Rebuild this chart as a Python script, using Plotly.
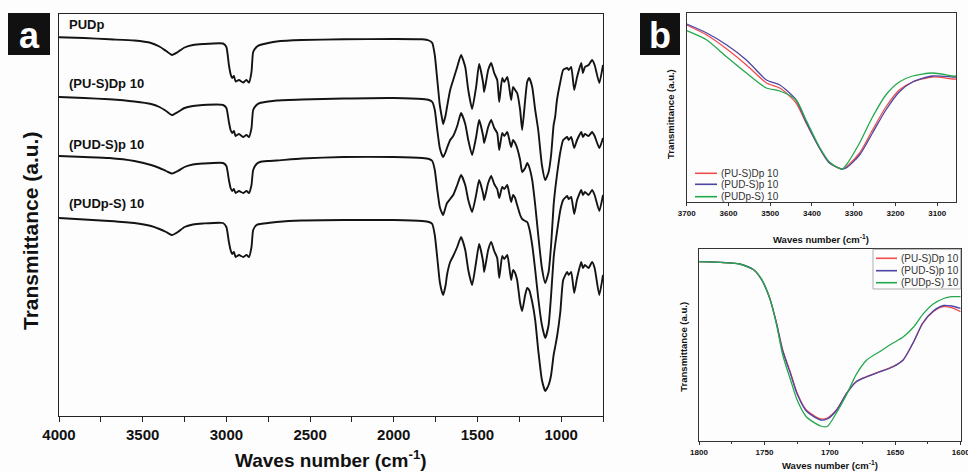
import plotly.graph_objects as go

W, H = 968, 472

# ---------------- Panel a : full FTIR spectra (stacked, a.u.) ----------------
WN_A = [4000, 3850, 3700, 3550, 3450, 3400, 3360, 3325, 3290, 3250, 3200, 3140, 3020, 3000,
        2985, 2975, 2965, 2955, 2945, 2925, 2900, 2880, 2865, 2850, 2840, 2820, 2800, 2750,
        2700, 2550, 2300, 2000, 1830, 1790, 1770, 1755, 1740, 1725, 1712, 1705, 1690, 1682,
        1663, 1645, 1621, 1598, 1573, 1555, 1532, 1508, 1490, 1466, 1460, 1436, 1418, 1400,
        1382, 1370, 1352, 1340, 1322, 1312, 1299, 1287, 1275, 1263, 1245, 1233, 1215, 1203,
        1191, 1173, 1155, 1137, 1115, 1095, 1075, 1060, 1045, 1036, 1025, 1005, 988, 964,
        955, 940, 922, 905, 880, 870, 858, 836, 815, 800, 772, 750]

PUDP = [462.7, 462, 460.7, 459.5, 457, 453.5, 449, 445, 448, 452.5, 455, 456, 456.5, 453,
        435, 426, 422, 424, 418.5, 420, 417.5, 420, 417.5, 428, 448, 453, 455, 457,
        458.5, 460, 460.7, 461, 460.7, 459.5, 457, 445, 420, 395, 382, 376, 385, 393,
        410, 420, 433, 445, 433, 410, 391, 413, 436, 417, 408, 430, 437, 427,
        420, 398, 422, 418, 423, 415, 400, 413, 410, 407, 390, 370, 400, 418,
        422, 413, 390, 370, 335, 320, 328, 345, 375, 383, 400, 418, 430, 432,
        430, 433, 410, 423, 437, 427, 433, 435, 440, 435, 417, 435]

PUSDP = [403, 402, 400.7, 398.5, 396, 393, 389, 385, 388, 392, 394, 395, 395, 392,
         378, 370, 367, 369, 364, 366, 363, 365, 363, 372, 390, 395, 397, 398.5,
         399.5, 400.5, 401.5, 402, 401, 400, 398, 390, 370, 352, 345, 343, 348, 352,
         360, 364, 374, 387, 376, 360, 345, 363, 380, 364, 357, 373, 380, 372,
         367, 350, 367, 364, 368, 362, 353, 360, 357, 352, 340, 328, 332, 337,
         333, 320, 295, 265, 232, 217, 228, 255, 295, 310, 325, 348, 360, 363,
         360, 363, 352, 360, 368, 363, 366, 364, 368, 364, 352, 362]

PUDSP = [344, 343, 342, 339, 335, 332, 329, 326.5, 329, 333, 335.5, 336.5, 337, 334,
         320, 312, 309, 311, 307, 309, 307, 309, 307, 315, 330, 336, 338, 339,
         339.5, 341.5, 343, 343, 342, 341, 339, 330, 310, 293, 287, 285, 293, 297,
         301, 305, 315, 325, 315, 300, 288, 305, 320, 306, 300, 317, 324, 316,
         311, 302, 313, 311, 315, 308, 298, 305, 302, 295, 285, 281, 279, 278,
         272, 255, 230, 202, 175, 162, 175, 205, 242, 255, 268, 290, 300, 304,
         301, 303, 286, 300, 310, 305, 308, 305, 310, 305, 289, 305]

PUDPS = [282, 280.5, 279, 277, 274, 271, 268, 265, 268, 273, 275.5, 276.5, 277, 273,
         258, 250, 246, 248, 243, 245, 243, 245, 243, 253, 270, 275, 276, 277,
         278, 279.5, 280, 280, 279, 278, 276, 265, 242, 218, 208, 205, 215, 225,
         238, 244, 253, 263, 250, 230, 215, 238, 256, 238, 228, 250, 258, 249,
         242, 222, 244, 241, 245, 236, 220, 230, 227, 220, 197, 189, 205, 212,
         210, 198, 180, 150, 120, 109, 115, 125, 145, 153, 163, 188, 220, 228,
         225, 228, 207, 222, 238, 232, 235, 232, 238, 232, 205, 225]

NAMES_A = ["PUDp", "(PU-S)Dp 10", "(PUD-S)p 10", "(PUDp-S) 10"]
LABEL_T_A = [476, 417, 356, 297]
LABEL_WN_A = 3950

# ---------------- Panel b (top) : 3700-3050 cm-1 ----------------
WN_B1 = [3700, 3652, 3604, 3557, 3509, 3477, 3438, 3414, 3382, 3358, 3328, 3318, 3286,
         3255, 3223, 3191, 3159, 3111, 3063, 3055]
B1_PUSDP = [225, 215, 201, 185, 167, 162, 147, 127, 102, 87, 81, 83, 97, 120, 143, 160,
            168, 173, 171, 171]
B1_PUDSP = [226, 217, 205, 190, 170, 165, 150, 128, 102, 87, 81, 82, 95, 117, 140, 158,
            168, 174, 173, 173]
B1_PUDPS = [219.3, 210, 193, 177, 162, 159, 150, 130, 103, 88, 81, 85, 107, 133, 155, 168,
            174, 177, 174, 174]

# ---------------- Panel b (bottom) : 1800-1600 cm-1 ----------------
WN_B2 = [1800, 1781, 1769, 1758, 1752, 1746, 1741, 1736, 1730, 1725, 1718, 1707, 1702, 1695,
         1687, 1680, 1672, 1662, 1652, 1644, 1636, 1629, 1621, 1613, 1607, 1600]
B2_PUSDP = [188.3, 187.3, 186, 180, 170, 152, 128.3, 100, 77, 57, 40, 31, 32, 40, 57, 68.3,
            73.3, 78.3, 83.3, 90, 108.3, 126.7, 138.3, 143.3, 142.3, 138.3]
B2_PUDSP = [188.3, 187.5, 186, 180, 170, 152, 128, 99, 76, 56, 39, 30, 31, 39.5, 57, 68,
            73, 78, 83, 90, 108, 127, 139, 144.5, 144, 141.7]
B2_PUDPS = [188.3, 187.3, 186, 180, 170.7, 152, 127, 95, 70, 50, 33.3, 24, 23.5, 37, 56,
            75.2, 89.8, 98.3, 106.7, 113, 123, 135.6, 146, 151.5, 153.3, 153.3]

NAMES_B = ["(PU-S)Dp 10", "(PUD-S)p 10", "(PUDp-S) 10"]
COLORS_B = ["#f04c4c", "#4b45a6", "#23a84b"]

XTICKS_B1 = [3700, 3600, 3500, 3400, 3300, 3200, 3100]
XTICKS_B2 = [1800, 1750, 1700, 1650, 1600]

FONT = "Liberation Sans, Arial, sans-serif"


def px(x):
    return x / W


def py(y):
    return 1 - y / H


fig = go.Figure()

for name, ys in zip(NAMES_A, [PUDP, PUSDP, PUDSP, PUDPS]):
    fig.add_trace(go.Scatter(x=WN_A, y=ys, mode="lines", name=name, showlegend=False,
                             line=dict(color="#141414", width=1.9, shape="spline", smoothing=0.5),
                             xaxis="x", yaxis="y"))

for name, ys, c in zip(NAMES_B, [B1_PUSDP, B1_PUDSP, B1_PUDPS], COLORS_B):
    fig.add_trace(go.Scatter(x=WN_B1, y=ys, mode="lines", name=name, showlegend=False,
                             line=dict(color=c, width=1.3, shape="spline", smoothing=0.7),
                             xaxis="x2", yaxis="y2"))

for name, ys, c in zip(NAMES_B, [B2_PUSDP, B2_PUDSP, B2_PUDPS], COLORS_B):
    fig.add_trace(go.Scatter(x=WN_B2, y=ys, mode="lines", name=name, showlegend=False,
                             line=dict(color=c, width=1.3, shape="spline", smoothing=0.7),
                             xaxis="x3", yaxis="y3"))

axis_common = dict(showgrid=False, zeroline=False, showline=True, mirror=True, automargin=False)

fig.update_layout(
    width=W, height=H, margin=dict(l=0, r=0, t=0, b=0, pad=0, autoexpand=False),
    paper_bgcolor="#fdfdfd", plot_bgcolor="#fdfdfd",
    font=dict(family=FONT, color="#111"),
    xaxis=dict(domain=[px(59), px(603)], range=[4000, 750], anchor="y",
               linecolor="#222", linewidth=1.2, ticks="outside", ticklen=5, tickwidth=1.2,
               tickcolor="#222", tickmode="linear", tick0=0, dtick=500,
               ticklabeloverflow="allow",
               tickfont=dict(family=FONT, size=15, color="#111", weight="bold"),
               minor=dict(dtick=250, tick0=0, ticks="outside", ticklen=5, tickwidth=1.2,
                          tickcolor="#222"),
               **axis_common),
    yaxis=dict(domain=[py(416), py(14)], range=[84, 486], anchor="x",
               linecolor="#222", linewidth=1.2, showticklabels=False, ticks="",
               **axis_common),
    xaxis2=dict(domain=[px(686.7), px(956)], range=[3700, 3055], anchor="y2",
                linecolor="#333", linewidth=1, ticks="outside", ticklen=3, tickwidth=1,
                tickcolor="#333", tickvals=XTICKS_B1, ticklabeloverflow="allow",
                tickfont=dict(family=FONT, size=8, color="#111", weight="bold"),
                **axis_common),
    yaxis2=dict(domain=[py(202), py(13.3)], range=[48, 236.7], anchor="x2",
                linecolor="#333", linewidth=1, showticklabels=False, ticks="",
                **axis_common),
    xaxis3=dict(domain=[px(699), px(960.7)], range=[1800, 1600], anchor="y3",
                linecolor="#333", linewidth=1, ticks="outside", ticklen=3, tickwidth=1,
                tickcolor="#333", tickvals=XTICKS_B2, ticklabeloverflow="allow",
                tickfont=dict(family=FONT, size=8, color="#111", weight="bold"),
                minor=dict(dtick=25, tick0=0, ticks="outside", ticklen=2, tickwidth=1,
                           tickcolor="#333"),
                **axis_common),
    yaxis3=dict(domain=[py(441), py(249.3)], range=[9, 200.7], anchor="x3",
                linecolor="#333", linewidth=1, showticklabels=False, ticks="",
                **axis_common),
)

shapes = []
annotations = []

# panel letters
for (x0, y0, x1, y1, letter) in [(8, 13, 50, 55, "a"), (640, 13, 680, 55, "b")]:
    shapes.append(dict(type="rect", xref="paper", yref="paper", x0=px(x0), x1=px(x1),
                       y0=py(y1), y1=py(y0), fillcolor="#111", line=dict(width=0), layer="above"))
    annotations.append(dict(text=letter, xref="paper", yref="paper", x=px((x0 + x1) / 2),
                            y=py((y0 + y1) / 2 + 1), xanchor="center", yanchor="middle",
                            showarrow=False,
                            font=dict(family=FONT, size=36, color="white", weight="bold")))

# spectrum labels, panel a
for name, t in zip(NAMES_A, LABEL_T_A):
    annotations.append(dict(text=name, xref="x", yref="y", x=LABEL_WN_A, y=t,
                            xanchor="left", yanchor="middle", showarrow=False,
                            font=dict(family=FONT, size=13, color="#111", weight="bold")))

# axis titles
annotations += [
    dict(text="Waves number (cm<sup>-1</sup>)", xref="paper", yref="paper", x=px(331), y=py(459),
         xanchor="center", yanchor="middle", showarrow=False,
         font=dict(family=FONT, size=19, color="#111", weight="bold")),
    dict(text="Transmittance (a.u.)", xref="paper", yref="paper", x=px(31), y=py(231),
         xanchor="center", yanchor="middle", textangle=-90, showarrow=False,
         font=dict(family=FONT, size=21, color="#111", weight="bold")),
    dict(text="Waves number (cm<sup>-1</sup>)", xref="paper", yref="paper", x=px(821), y=py(239),
         xanchor="center", yanchor="middle", showarrow=False,
         font=dict(family=FONT, size=9.5, color="#111", weight="bold")),
    dict(text="Transmittance (a.u.)", xref="paper", yref="paper", x=px(670), y=py(114),
         xanchor="center", yanchor="middle", textangle=-90, showarrow=False,
         font=dict(family=FONT, size=9.5, color="#111", weight="bold")),
    dict(text="Waves number (cm<sup>-1</sup>)", xref="paper", yref="paper", x=px(830), y=py(465),
         xanchor="center", yanchor="middle", showarrow=False,
         font=dict(family=FONT, size=9.5, color="#111", weight="bold")),
    dict(text="Transmittance (a.u.)", xref="paper", yref="paper", x=px(682.7), y=py(347),
         xanchor="center", yanchor="middle", textangle=-90, showarrow=False,
         font=dict(family=FONT, size=9.5, color="#111", weight="bold")),
]


# manual legends for panel b
def legend(x_line0, x_line1, x_text, rows):
    for name, c, yy in zip(NAMES_B, COLORS_B, rows):
        shapes.append(dict(type="line", xref="paper", yref="paper", x0=px(x_line0), x1=px(x_line1),
                           y0=py(yy), y1=py(yy), line=dict(color=c, width=1.6)))
        annotations.append(dict(text=name, xref="paper", yref="paper", x=px(x_text), y=py(yy),
                                xanchor="left", yanchor="middle", showarrow=False,
                                font=dict(family=FONT, size=10, color="#333")))


legend(695, 717, 719, [173.3, 184.3, 196.7])
legend(876, 897, 899, [258.3, 270.7, 282.7])
shapes.append(dict(type="rect", xref="paper", yref="paper", x0=px(873), x1=px(960.7),
                   y0=py(289), y1=py(249.3), line=dict(color="#999", width=0.8)))

fig.update_layout(shapes=shapes, annotations=annotations)

fig.write_html("out.html")
